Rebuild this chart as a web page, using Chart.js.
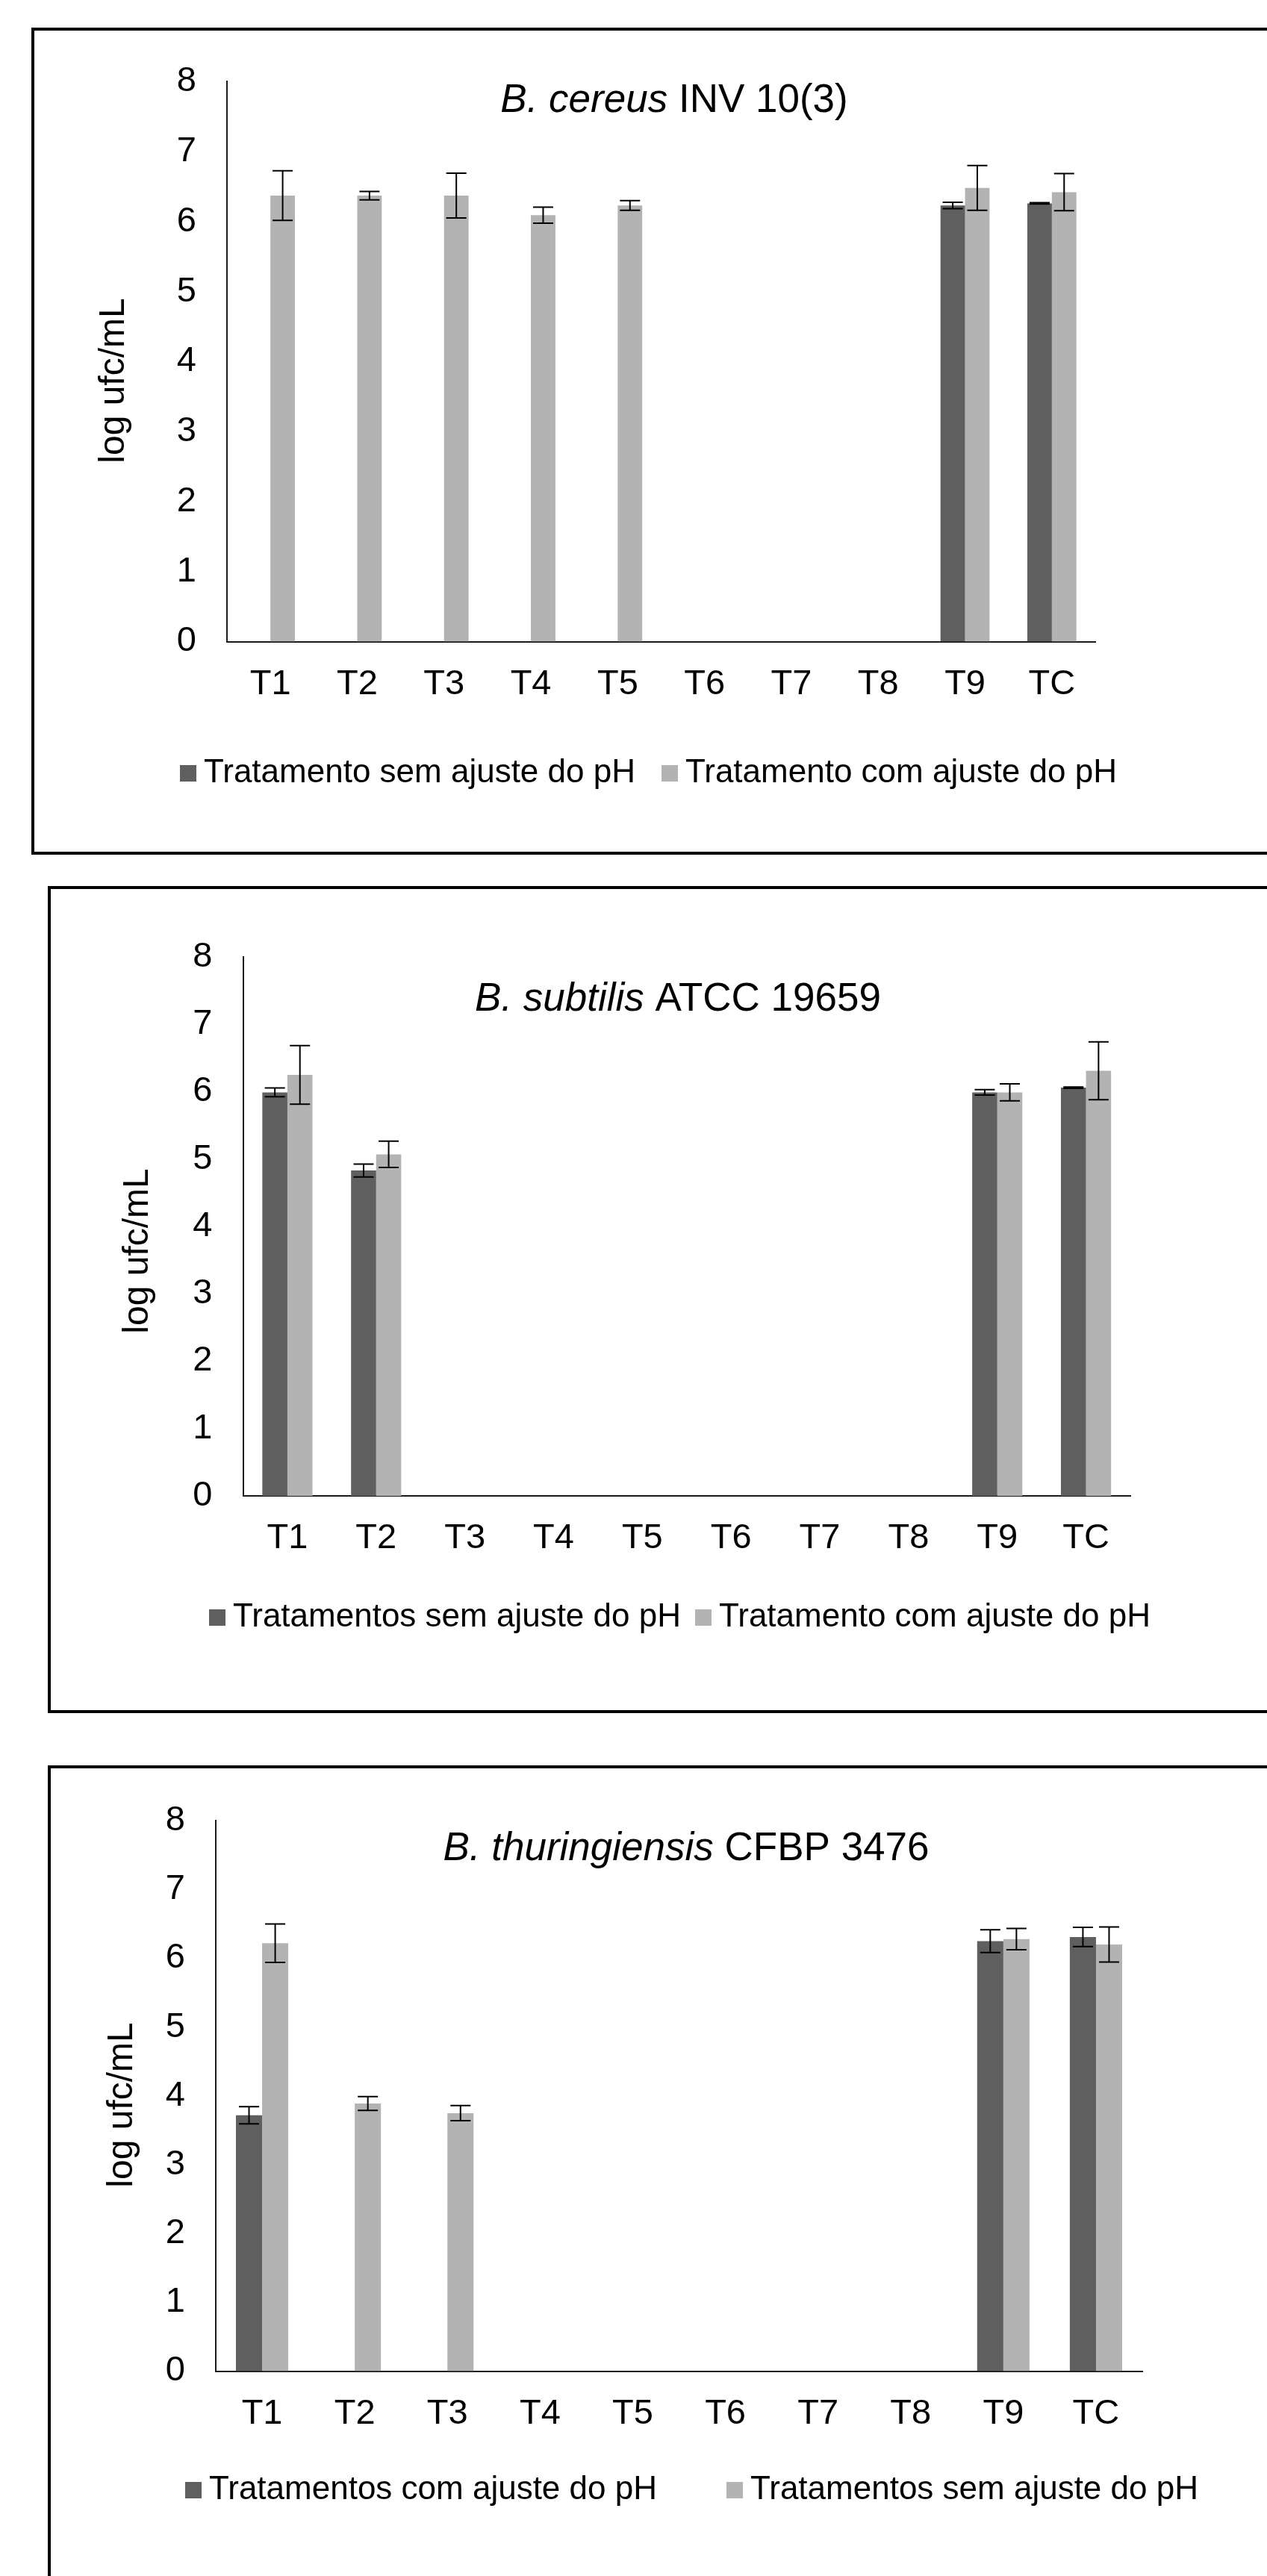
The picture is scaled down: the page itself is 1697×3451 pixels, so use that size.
<!DOCTYPE html>
<html>
<head>
<meta charset="utf-8">
<script src="https://cdn.jsdelivr.net/npm/chart.js@4.4.1/dist/chart.umd.min.js"></script>
<style>
  html, body { margin: 0; padding: 0; background: #ffffff; overflow: hidden; width: 1697px; height: 3451px; }
  canvas { position: absolute; left: 0; }
  .frame { position: absolute; border: 4px solid #000; box-sizing: border-box; width: 1760px; pointer-events: none; }
</style>
</head>
<body>
<canvas id="c1" width="1697" height="1100" style="top:40px"></canvas>
<canvas id="c2" width="1697" height="1097" style="top:1192px"></canvas>
<canvas id="c3" width="1697" height="1081" style="top:2370px"></canvas>
<div class="frame" style="left:42px;top:37px;height:1108px"></div>
<div class="frame" style="left:64px;top:1187px;height:1108px"></div>
<div class="frame" style="left:64px;top:2365px;height:1200px"></div>
<script>
// ---------- data ----------
const categories = ['T1', 'T2', 'T3', 'T4', 'T5', 'T6', 'T7', 'T8', 'T9', 'TC'];
const yMin = 0, yMax = 8, yStep = 1;
const yAxisTitle = 'log ufc/mL';

// Panel 1: B. cereus INV 10(3)
const cereusSemAjuste    = [0, 0, 0, 0, 0, 0, 0, 0, 6.23, 6.26];
const cereusSemAjusteErr = [0, 0, 0, 0, 0, 0, 0, 0, 0.045, 0.01];
const cereusComAjuste    = [6.37, 6.37, 6.37, 6.09, 6.23, 0, 0, 0, 6.48, 6.42];
const cereusComAjusteErr = [0.355, 0.06, 0.32, 0.115, 0.07, 0, 0, 0, 0.32, 0.265];

// Panel 2: B. subtilis ATCC 19659
const subtilisSemAjuste    = [5.99, 4.83, 0, 0, 0, 0, 0, 0, 5.99, 6.06];
const subtilisSemAjusteErr = [0.065, 0.095, 0, 0, 0, 0, 0, 0, 0.04, 0.01];
const subtilisComAjuste    = [6.25, 5.07, 0, 0, 0, 0, 0, 0, 5.99, 6.31];
const subtilisComAjusteErr = [0.435, 0.195, 0, 0, 0, 0, 0, 0, 0.125, 0.43];

// Panel 3: B. thuringiensis CFBP 3476
const thurComAjuste    = [3.72, 0, 0, 0, 0, 0, 0, 0, 6.25, 6.31];
const thurComAjusteErr = [0.125, 0, 0, 0, 0, 0, 0, 0, 0.165, 0.14];
const thurSemAjuste    = [6.22, 3.89, 3.75, 0, 0, 0, 0, 0, 6.28, 6.20];
const thurSemAjusteErr = [0.28, 0.10, 0.11, 0, 0, 0, 0, 0, 0.155, 0.255];

// ---------- styles ----------
const FONT = "'Liberation Sans', Arial, Helvetica, sans-serif";
const DARK = '#5f5f5f';
const LIGHT = '#b3b3b3';
const AXIS = '#1a1a1a';
const TEXT = '#000000';

const errorBarsPlugin = {
  id: 'errorBars',
  afterDatasetsDraw(chart, args, o) {
    const ctx = chart.ctx;
    const ys = chart.scales.y;
    chart.data.datasets.forEach((ds, d) => {
      if (!ds.errors) return;
      const meta = chart.getDatasetMeta(d);
      meta.data.forEach((bar, i) => {
        const v = ds.data[i], e = ds.errors[i];
        if (v == null || !e) return;
        const x = bar.x;
        const yt = ys.getPixelForValue(v + e);
        const yb = ys.getPixelForValue(v - e);
        ctx.save();
        ctx.strokeStyle = o.color;
        ctx.lineWidth = o.width;
        ctx.beginPath();
        ctx.moveTo(x, yt); ctx.lineTo(x, yb);
        ctx.moveTo(x - o.cap / 2, yt); ctx.lineTo(x + o.cap / 2, yt);
        ctx.moveTo(x - o.cap / 2, yb); ctx.lineTo(x + o.cap / 2, yb);
        ctx.stroke();
        ctx.restore();
      });
    });
  }
};

const panelTextPlugin = {
  id: 'panelText',
  afterDraw(chart, args, o) {
    const ctx = chart.ctx;
    ctx.save();
    ctx.fillStyle = TEXT;
    ctx.textBaseline = 'middle';
    ctx.textAlign = 'left';
    // title (italic species + normal strain)
    let total = 0;
    const parts = o.title.map(p => {
      ctx.font = (p.italic ? 'italic ' : '') + o.titleSize + 'px ' + FONT;
      const w = ctx.measureText(p.text).width;
      total += w;
      return { p, w };
    });
    let x = o.titleX - total / 2;
    parts.forEach(({ p, w }) => {
      ctx.font = (p.italic ? 'italic ' : '') + o.titleSize + 'px ' + FONT;
      ctx.fillText(p.text, x, o.titleY);
      x += w;
    });
    // y axis title
    ctx.save();
    ctx.translate(o.yTitleX, o.yTitleY);
    ctx.rotate(-Math.PI / 2);
    ctx.textAlign = 'center';
    ctx.font = o.yTitleSize + 'px ' + FONT;
    ctx.fillText(yAxisTitle, 0, 0);
    ctx.restore();
    // legend
    ctx.font = o.legendSize + 'px ' + FONT;
    ctx.textAlign = 'left';
    chart.data.datasets.forEach((ds, i) => {
      const lx = o.legendX[i];
      ctx.fillStyle = ds.backgroundColor;
      ctx.fillRect(lx, o.legendY - o.box / 2, o.box, o.box);
      ctx.fillStyle = TEXT;
      ctx.fillText(ds.label, lx + o.box + o.legendGap, o.legendY);
    });
    ctx.restore();
  }
};

function buildChart(id, L, datasets, title) {
  const W = 1697;
  const XH = 100;
  const c = L.top;
  return new Chart(document.getElementById(id), {
    type: 'bar',
    data: { labels: categories, datasets },
    options: {
      responsive: false,
      animation: false,
      devicePixelRatio: 1,
      layout: {
        padding: {
          left: 0,
          right: W - L.right,
          top: L.plotTop - c,
          bottom: L.height - (L.plotBottom - c) - XH
        }
      },
      scales: {
        x: {
          grid: { display: false, drawTicks: false },
          border: { display: true, color: AXIS, width: 2 },
          ticks: { color: TEXT, font: { size: 47, family: FONT }, padding: 29, maxRotation: 0, autoSkip: false },
          afterFit: s => { s.height = XH; }
        },
        y: {
          min: yMin, max: yMax,
          grid: { display: false, drawTicks: false },
          border: { display: true, color: AXIS, width: 2 },
          ticks: { stepSize: yStep, color: TEXT, font: { size: 47, family: FONT }, padding: 41 },
          afterFit: s => { s.width = L.left; }
        }
      },
      plugins: {
        legend: { display: false },
        tooltip: { enabled: false },
        errorBars: { color: '#000', width: 2, cap: 27 },
        panelText: {
          title,
          titleSize: 53,
          titleX: L.titleX, titleY: L.titleY - c,
          yTitleSize: 48,
          yTitleX: L.yTitleX, yTitleY: L.yTitleY - c,
          legendSize: 44, box: 22, legendGap: 10,
          legendX: L.legendX, legendY: L.legendY - c
        }
      }
    },
    plugins: [errorBarsPlugin, panelTextPlugin]
  });
}

function ds(label, data, errors, color) {
  return { label, data, errors, backgroundColor: color, borderWidth: 0, categoryPercentage: 0.565, barPercentage: 1.0 };
}

buildChart('c1',
  { top: 40, height: 1100, left: 304, right: 1467, plotTop: 104, plotBottom: 859.5,
    titleX: 903, titleY: 135, yTitleX: 153, yTitleY: 510, legendY: 1036, legendX: [241, 886] },
  [ds('Tratamento sem ajuste do pH', cereusSemAjuste, cereusSemAjusteErr, DARK),
   ds('Tratamento com ajuste do pH', cereusComAjuste, cereusComAjusteErr, LIGHT)],
  [{ text: 'B. cereus', italic: true }, { text: ' INV 10(3)' }]);

buildChart('c2',
  { top: 1192, height: 1097, left: 325.5, right: 1514, plotTop: 1282, plotBottom: 2004,
    titleX: 908, titleY: 1339, yTitleX: 185, yTitleY: 1676, legendY: 2167, legendX: [280, 931] },
  [ds('Tratamentos sem ajuste do pH', subtilisSemAjuste, subtilisSemAjusteErr, DARK),
   ds('Tratamento com ajuste do pH', subtilisComAjuste, subtilisComAjusteErr, LIGHT)],
  [{ text: 'B. subtilis', italic: true }, { text: ' ATCC 19659' }]);

buildChart('c3',
  { top: 2370, height: 1081, left: 289, right: 1530, plotTop: 2435, plotBottom: 3176.5,
    titleX: 919, titleY: 2477, yTitleX: 164, yTitleY: 2820, legendY: 3336, legendX: [248, 973] },
  [ds('Tratamentos com ajuste do pH', thurComAjuste, thurComAjusteErr, DARK),
   ds('Tratamentos sem ajuste do pH', thurSemAjuste, thurSemAjusteErr, LIGHT)],
  [{ text: 'B. thuringiensis', italic: true }, { text: ' CFBP 3476' }]);
</script>
</body>
</html>
